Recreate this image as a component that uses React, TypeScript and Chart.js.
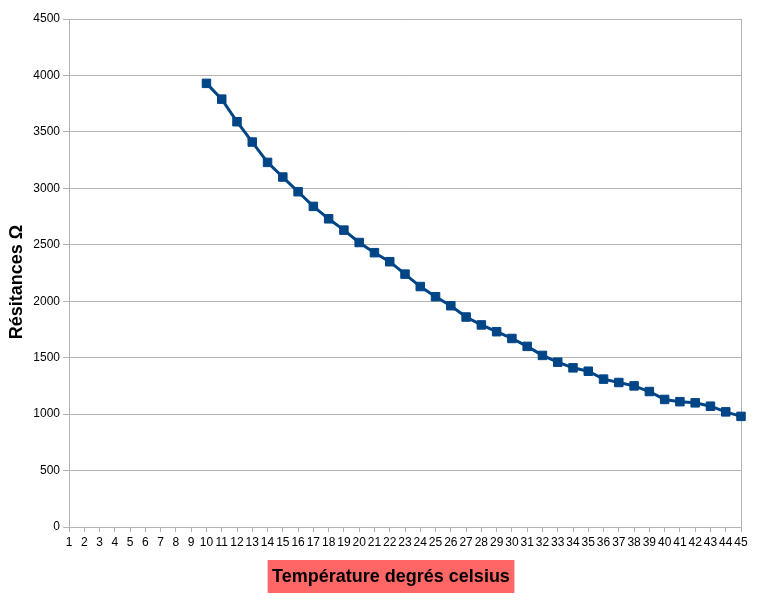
import React, { useEffect, useRef } from "react";
import { Chart, registerables } from "chart.js";

Chart.register(...registerables);

const categories: string[] = [
  "1", "2", "3", "4", "5", "6", "7", "8", "9", "10",
  "11", "12", "13", "14", "15", "16", "17", "18", "19", "20",
  "21", "22", "23", "24", "25", "26", "27", "28", "29", "30",
  "31", "32", "33", "34", "35", "36", "37", "38", "39", "40",
  "41", "42", "43", "44", "45",
];

const resistances: (number | null)[] = [
  null, null, null, null, null, null, null, null, null,
  3930, 3790, 3590, 3410, 3230, 3100, 2970, 2840, 2730, 2630,
  2520, 2430, 2350, 2240, 2130, 2040, 1960, 1860, 1790, 1730,
  1670, 1600, 1520, 1460, 1410, 1380, 1310, 1280, 1250, 1200,
  1130, 1110, 1100, 1070, 1020, 980,
];

const xTitle = "Température degrés celsius";
const yTitle = "Résitances Ω";
const yMin = 0;
const yMax = 4500;
const yStep = 500;

const FONT = "'Liberation Sans', Arial, sans-serif";
const GRID = "#b3b3b3";
const LINE = "#004586";

const titlesPlugin = {
  id: "titlesPlugin",
  afterDraw(chart: any) {
    const { ctx, chartArea } = chart;
    ctx.save();
    ctx.font = `bold 18px ${FONT}`;
    ctx.fillStyle = "#000";
    ctx.textAlign = "center";
    ctx.textBaseline = "middle";
    ctx.translate(17, (chartArea.top + chartArea.bottom) / 2 + 9);
    ctx.rotate(-Math.PI / 2);
    ctx.fillText(yTitle, 0, 0);
    ctx.restore();

    ctx.save();
    ctx.font = `bold 18px ${FONT}`;
    const cx = (chartArea.left + chartArea.right) / 2 - 14;
    const tw = ctx.measureText(xTitle).width;
    const boxW = tw + 9;
    const boxH = 33;
    const boxTop = chartArea.bottom + 33;
    ctx.fillStyle = "#ff6666";
    ctx.fillRect(cx - boxW / 2, boxTop, boxW, boxH);
    ctx.fillStyle = "#000";
    ctx.textAlign = "center";
    ctx.textBaseline = "middle";
    ctx.fillText(xTitle, cx, boxTop + boxH / 2 + 1);
    ctx.restore();
  },
};

export default function App() {
  const canvasRef = useRef<HTMLCanvasElement | null>(null);

  useEffect(() => {
    document.body.style.margin = "0";
    const canvas = canvasRef.current;
    if (!canvas) return;
    const chart = new Chart(canvas, {
      type: "line",
      data: {
        labels: categories,
        datasets: [
          {
            data: resistances,
            borderColor: LINE,
            backgroundColor: LINE,
            borderWidth: 3,
            pointStyle: "rect",
            pointRadius: 6,
            pointBorderWidth: 1,
            pointBorderColor: LINE,
            pointBackgroundColor: LINE,
            tension: 0,
            fill: false,
          },
        ],
      },
      options: {
        animation: false,
        responsive: false,
        devicePixelRatio: 1,
        layout: { padding: { left: 0, right: 30, top: 19, bottom: 43 } },
        plugins: {
          legend: { display: false },
          tooltip: { enabled: false },
          title: { display: false },
        },
        scales: {
          x: {
            type: "category",
            offset: false,
            grid: {
              display: true,
              drawOnChartArea: true,
              drawTicks: true,
              tickLength: 5,
              color: (c: any) => (c.index === categories.length - 1 ? GRID : "rgba(0,0,0,0)"),
              tickColor: GRID,
              lineWidth: 1,
            },
            border: { display: true, color: GRID, width: 1 },
            ticks: {
              autoSkip: false,
              maxRotation: 0,
              minRotation: 0,
              padding: 3,
              color: "#000",
              font: { family: FONT, size: 12 },
            },
            afterFit: (scale: any) => {
              scale.height = 30;
            },
          },
          y: {
            min: yMin,
            max: yMax,
            ticks: {
              stepSize: yStep,
              padding: 3,
              color: "#000",
              font: { family: FONT, size: 12 },
              callback: (v: any) => String(v),
            },
            grid: {
              color: GRID,
              tickColor: GRID,
              tickLength: 6,
              lineWidth: 1,
            },
            border: { display: true, color: GRID, width: 1 },
            afterFit: (scale: any) => {
              scale.width = 69;
            },
          },
        },
      },
      plugins: [titlesPlugin],
    });
    return () => chart.destroy();
  }, []);

  return (
    <div style={{ width: 771, height: 600, background: "#fff" }}>
      <canvas ref={canvasRef} width={771} height={600} />
    </div>
  );
}
